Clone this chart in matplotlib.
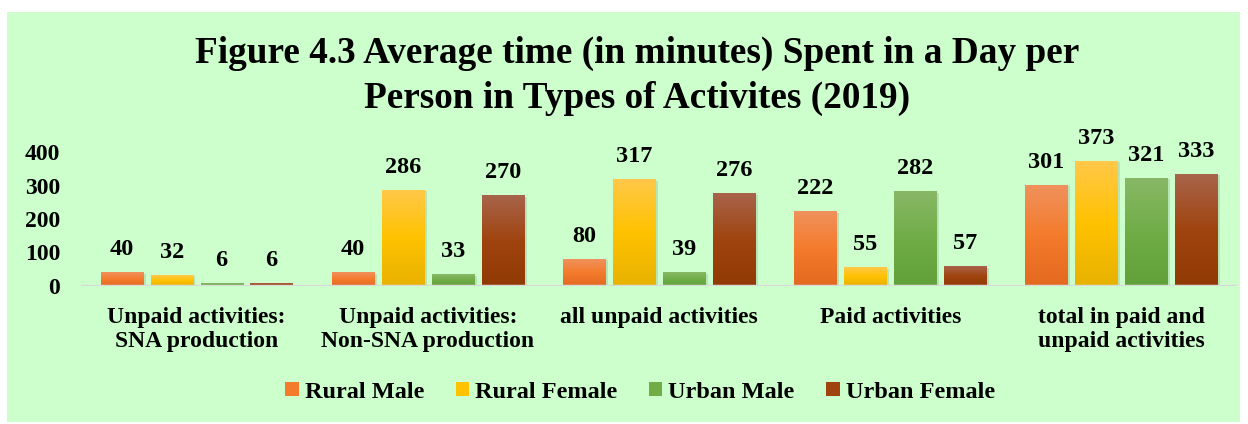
import numpy as np
import matplotlib.pyplot as plt
from matplotlib.colors import LinearSegmentedColormap
from matplotlib.patches import Patch, Rectangle

categories = ['Unpaid activities:\nSNA production',
              'Unpaid activities:\nNon-SNA production',
              'all unpaid activities',
              'Paid activities',
              'total in paid and\nunpaid activities']
series = ['Rural Male', 'Rural Female', 'Urban Male', 'Urban Female']
rural_male = [40, 40, 80, 222, 301]
rural_female = [32, 286, 317, 55, 373]
urban_male = [6, 33, 39, 282, 321]
urban_female = [6, 270, 276, 57, 333]
yticks = [0, 100, 200, 300, 400]

# gradient colours (bottom, middle, top)
grads = [['#E2691F', '#F47B2C', '#F0915C'],
         ['#E8B200', '#FFC200', '#FFC848'],
         ['#62A03A', '#70AD47', '#88B866'],
         ['#913A04', '#A0440F', '#A8644A']]

plt.rcParams['font.family'] = ['Liberation Serif', 'DejaVu Serif']
plt.rcParams['font.weight'] = 'bold'

fig = plt.figure(figsize=(12.48, 4.24), dpi=100)
fig.patch.set_facecolor('white')
fig.patches.append(Rectangle((7/1248, 1-422/424), 1233/1248, 410/424,
                             transform=fig.transFigure, facecolor='#CCFFCC',
                             edgecolor='none', zorder=-5))

ax = fig.add_axes([81/1248, 1-286/424, 1156/1248, 134/424])
ax.set_facecolor('none')
ax.set_zorder(2)

x = np.arange(len(categories))
width = 0.182
step = 0.216
data = [rural_male, rural_female, urban_male, urban_female]
for i, vals in enumerate(data):
    pos = x + (i - 1.5) * step
    cmap = LinearSegmentedColormap.from_list(series[i], grads[i])
    # soft shadow
    ax.bar(pos + 0.012, vals, width, bottom=-3, color='#7A9A7A', alpha=0.25, zorder=1)
    bars = ax.bar(pos, vals, width, color='none', zorder=2)
    for b in bars:
        bx, by = b.get_x(), b.get_y()
        ax.imshow(np.linspace(0, 1, 64).reshape(-1, 1), cmap=cmap, origin='lower',
                  extent=[bx, bx + b.get_width(), by, by + b.get_height()],
                  aspect='auto', zorder=2)
    ax.bar_label(bars, padding=9, fontsize=17.5, fontweight='bold')

ax.axhline(0, color='#D9D9D9', lw=2.5, zorder=3)
ax.set_xlim(-0.5, len(categories) - 0.5)
ax.set_ylim(0, 400)
ax.set_yticks(yticks)
ax.set_xticks(x)
ax.set_xticklabels(categories, fontsize=17, fontweight='bold')
ax.tick_params(axis='both', length=0, labelsize=17)
ax.tick_params(axis='x', pad=15)
ax.tick_params(axis='y', pad=15)
for s in ax.spines.values():
    s.set_visible(False)

fig.text(637/1248, 1-53/424, 'Figure 4.3 Average time (in minutes) Spent in a Day per',
         ha='center', va='center', fontsize=26.8, fontweight='bold')
fig.text(637/1248, 1-98/424, 'Person in Types of Activites (2019)',
         ha='center', va='center', fontsize=26.8, fontweight='bold')

handles = [Patch(facecolor=g[1], edgecolor='none') for g in grads]
fig.legend(handles, series, loc='center', bbox_to_anchor=(640/1248, 1-392/424),
           ncol=4, frameon=False, fontsize=17.5, handlelength=0.55, handleheight=0.55,
           handletextpad=0.25, columnspacing=1.3)

fig.savefig('out.png', dpi=100)
